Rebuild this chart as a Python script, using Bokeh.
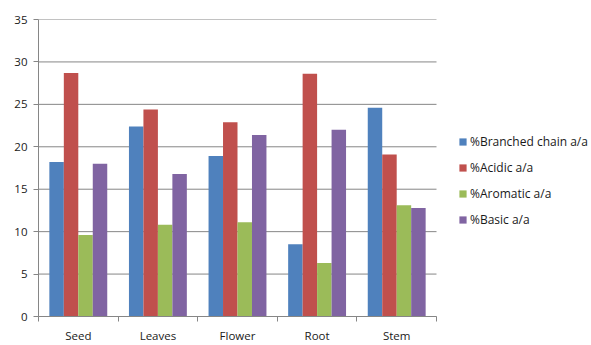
from bokeh.plotting import figure
from bokeh.models import FixedTicker, Legend, LegendItem, Range1d
from bokeh.embed import file_html
from bokeh.resources import INLINE
import numpy as np

categories = ["Seed", "Leaves", "Flower", "Root", "Stem"]
series_names = ["%Branched chain a/a", "%Acidic a/a", "%Aromatic a/a", "%Basic a/a"]
branched = [18.2, 22.4, 18.9, 8.5, 24.6]
acidic = [28.7, 24.4, 22.9, 28.6, 19.1]
aromatic = [9.6, 10.8, 11.1, 6.3, 13.1]
basic = [18.0, 16.8, 21.4, 22.0, 12.8]
y_ticks = [0, 5, 10, 15, 20, 25, 30, 35]

colors = ["#4F81BD", "#C0504D", "#9BBB59", "#8064A2"]
series = [branched, acidic, aromatic, basic]

W, H = 591, 345
left, top, bottom = 38, 19, 27
plot_w = 398  # width of the chart area; the rest of the frame hosts the legend
frame_w = W - left
n = len(categories)

p = figure(width=W, height=H, output_backend="svg", toolbar_location=None,
           min_border_left=left, min_border_right=0, min_border_top=top, min_border_bottom=bottom)
p.x_range = Range1d(0, n * frame_w / plot_w)
p.y_range = Range1d(0, 35)
p.outline_line_color = None
p.background_fill_color = "white"
p.border_fill_color = "white"

# horizontal grid lines limited to the chart area
p.segment(x0=[0] * len(y_ticks), x1=[n] * len(y_ticks), y0=y_ticks, y1=y_ticks,
          line_color="#868686", line_width=1)

bw = 1 / 5.5
centers = np.arange(n) + 0.5
items = []
for i, (vals, c, name) in enumerate(zip(series, colors, series_names)):
    off = (i - 1.5) * bw
    r = p.vbar(x=centers + off, top=vals, width=bw, bottom=0, fill_color=c, line_color=None)
    items.append(LegendItem(label=name, renderers=[r]))

# x axis
p.xaxis.bounds = (0, n)
p.xaxis.ticker = FixedTicker(ticks=list(centers), minor_ticks=list(range(n + 1)))
p.xaxis.major_label_overrides = {float(c): name for c, name in zip(centers, categories)}
p.xaxis.major_tick_line_color = None
p.xaxis.major_tick_in = 0
p.xaxis.major_tick_out = 0
p.xaxis.minor_tick_in = 0
p.xaxis.minor_tick_out = 5
p.xaxis.minor_tick_line_color = "#868686"
p.xaxis.axis_line_color = "#868686"
p.xaxis.major_label_standoff = 6
p.xaxis.major_label_text_font = "Open Sans"
p.xaxis.major_label_text_font_size = "11.5px"
p.xaxis.major_label_text_color = "#1a1a1a"

# y axis
p.yaxis.ticker = FixedTicker(ticks=y_ticks)
p.yaxis.minor_tick_line_color = None
p.yaxis.major_tick_in = 0
p.yaxis.major_tick_out = 5
p.yaxis.major_tick_line_color = "#868686"
p.yaxis.axis_line_color = "#868686"
p.yaxis.major_label_standoff = 6
p.yaxis.major_label_text_font = "Open Sans"
p.yaxis.major_label_text_font_size = "11.5px"
p.yaxis.major_label_text_color = "#1a1a1a"

p.xgrid.grid_line_color = None
p.ygrid.grid_line_color = None

legend = Legend(items=items, location=(420, 88), orientation="vertical")
legend.border_line_color = None
legend.background_fill_alpha = 0
legend.padding = 0
legend.margin = 0
legend.glyph_width = 9
legend.glyph_height = 9
legend.label_height = 16
legend.spacing = 9
legend.label_standoff = 3
legend.label_text_font = "Open Sans"
legend.label_text_font_size = "12px"
legend.label_text_color = "#1a1a1a"
p.add_layout(legend, "center")

open("out.html", "w").write(file_html(p, INLINE))
